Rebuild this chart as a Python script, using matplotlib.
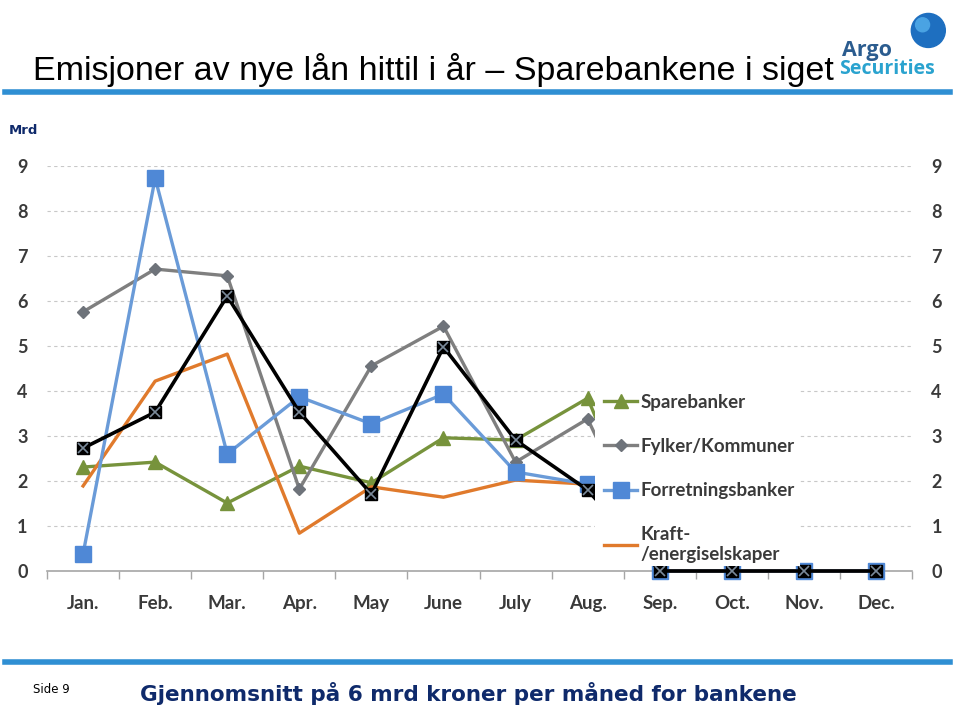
import numpy as np
import matplotlib
matplotlib.use("Agg")
import matplotlib.pyplot as plt
from matplotlib.lines import Line2D
from matplotlib.patches import Rectangle, Ellipse

# data (Mrd kroner per month)
months = ['Jan.', 'Feb.', 'Mar.', 'Apr.', 'May', 'June', 'July', 'Aug.',
          'Sep.', 'Oct.', 'Nov.', 'Dec.']
sparebanker = [2.31, 2.42, 1.51, 2.33, 1.96, 2.96, 2.91, 3.84, 0, 0, 0, 0]
fylker = [5.76, 6.71, 6.56, 1.82, 4.56, 5.44, 2.42, 3.38, 0, 0, 0, 0]
forretning = [0.38, 8.73, 2.60, 3.87, 3.27, 3.93, 2.20, 1.93, 0, 0, 0, 0]
kraft = [1.89, 4.22, 4.82, 0.84, 1.87, 1.64, 2.02, 1.93, 0, 0, 0, 0]
snitt = [2.73, 3.53, 6.11, 3.53, 1.71, 4.98, 2.91, 1.80, 0, 0, 0, 0]

navy = '#0f2a6b'
rule_blue = '#2f8fd3'
txt = '#3a3a3a'

fig = plt.figure(figsize=(9.6, 7.08), dpi=100)
fig.patch.set_facecolor('white')

ax = fig.add_axes([0.049, 0.1935, 0.901, 0.572])
x = np.arange(len(months))

ax.plot(x, sparebanker, color='#77933c', lw=2.4, marker='^', ms=10,
        label='Sparebanker', zorder=3, clip_on=False)
ax.plot(x, fylker, color='#7f7f7f', lw=2.4, marker='D', ms=6,
        mfc='#6e737a', mec='#6e737a', label='Fylker/Kommuner', zorder=3,
        clip_on=False)
ax.plot(x, forretning, color='#6a9bd8', lw=2.4, marker='s', ms=12,
        mfc='#4f88d6', mec='#4f88d6', label='Forretningsbanker', zorder=4,
        clip_on=False)
ax.plot(x, kraft, color='#e07a2c', lw=2.4, label='Kraft-\n/energiselskaper',
        zorder=3, clip_on=False)
ax.plot(x, snitt, color='black', lw=2.6, marker='s', ms=8, zorder=5,
        clip_on=False)
ax.plot(x, snitt, ls='none', marker='x', ms=7, mew=1.2, color='#7a8a9a',
        zorder=6, clip_on=False)

ax.set_xlim(-0.5, 11.5)
ax.set_ylim(0, 9)
ax.set_yticks(range(0, 10))
ax.yaxis.grid(True, ls=(0, (3, 3)), color='#c8c8c8', lw=0.8)
ax.set_axisbelow(True)

for s in ['top', 'left', 'right']:
    ax.spines[s].set_visible(False)
ax.spines['bottom'].set_color('#a6a6a6')
ax.spines['bottom'].set_linewidth(1.2)

ax.set_xticks(x)
ax.set_xticklabels(months, fontsize=13.5, fontweight='bold', color=txt,
                   family='Lato')
ax.set_xticks(np.arange(-0.5, 12, 1), minor=True)
ax.tick_params(axis='x', which='major', length=0, pad=17)
ax.tick_params(axis='x', which='minor', length=6, color='#a6a6a6', width=1)
ax.tick_params(axis='y', length=0, labelsize=13, labelcolor=txt,
               labelleft=True, labelright=True, pad=14)
for lab in ax.get_yticklabels():
    lab.set_fontweight('bold')
    lab.set_family('Lato')

# white legend box sitting over the lines, as on the slide
ax.add_patch(Rectangle((0.633, 0.012), 0.238, 0.448, transform=ax.transAxes,
                       facecolor='white', edgecolor='none', zorder=9))
leg = ax.legend(loc='upper left', bbox_to_anchor=(0.629, 0.47),
                frameon=False, handlelength=1.75, handletextpad=0.2,
                labelspacing=1.45, borderpad=0.2,
                prop={'family': 'Lato', 'weight': 'bold', 'size': 13.5})
leg.set_zorder(10)
for t in leg.get_texts():
    t.set_color(txt)

# slide decoration
fig.text(0.034, 0.901, 'Emisjoner av nye lån hittil i år – Sparebankene i siget',
         fontsize=24.5, family='Liberation Sans', color='black', va='center')
fig.add_artist(Line2D([0.005, 0.99], [0.87, 0.87], color=rule_blue, lw=4))
fig.add_artist(Line2D([0.005, 0.99], [0.065, 0.065], color=rule_blue, lw=4))
fig.text(0.009, 0.816, 'Mrd', fontsize=9.5, fontweight='bold', color=navy,
         family='DejaVu Sans', va='center')
fig.text(0.034, 0.026, 'Side 9', fontsize=8.5, color='black',
         family='DejaVu Sans', va='center')
fig.text(0.146, 0.021, 'Gjennomsnitt på 6 mrd kroner per måned for bankene',
         fontsize=15.5, fontweight='bold', color=navy, family='DejaVu Sans',
         va='center')

# logo
fig.text(0.877, 0.929, 'Argo', fontsize=15.5, fontweight='bold',
         color='#2b5c8f', family='Open Sans', va='center')
fig.text(0.874, 0.903, 'Securities', fontsize=14, fontweight='bold',
         color='#2aa3cf', family='Open Sans', va='center')
fig.add_artist(Ellipse((0.967, 0.957), 34 / 960, 34 / 708,
                       transform=fig.transFigure, color='#1e6fc0', zorder=5))
fig.add_artist(Ellipse((0.961, 0.965), 14 / 960, 14 / 708,
                       transform=fig.transFigure, color='#4aa3e3', zorder=6))

fig.savefig('out.png', dpi=100, facecolor='white')
